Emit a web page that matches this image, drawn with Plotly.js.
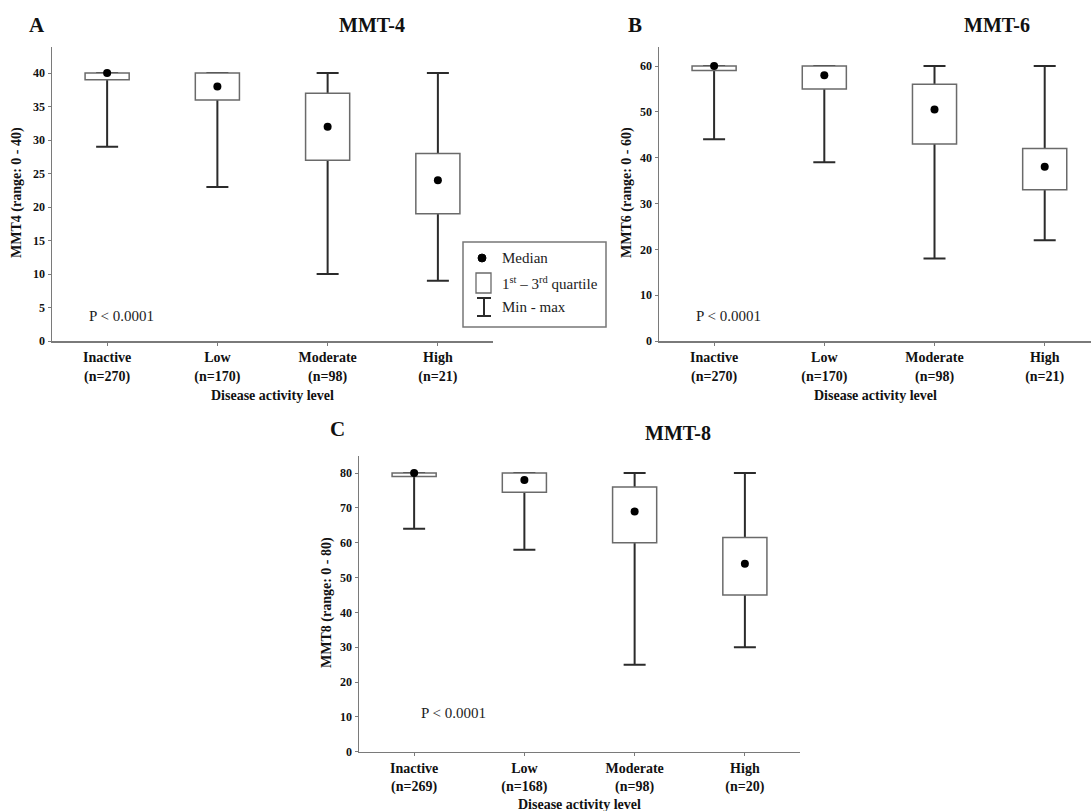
<!DOCTYPE html>
<html>
<head>
<meta charset="utf-8">
<script src="https://cdn.plot.ly/plotly-3.0.1.min.js"></script>
<style>html,body{margin:0;padding:0;background:#fff;}#chart{width:1091px;height:811px;}</style>
</head>
<body>
<div id="chart"></div>
<script>
// ---------- data ----------
const categories = ['Inactive', 'Low', 'Moderate', 'High'];
const nA = [270, 170, 98, 21];
const nB = [270, 170, 98, 21];
const nC = [269, 168, 98, 20];

// MMT-4
const mmt4Min = [29, 23, 10, 9];
const mmt4Q1 = [39, 36, 27, 19];
const mmt4Median = [40, 38, 32, 24];
const mmt4Q3 = [40, 40, 37, 28];
const mmt4Max = [40, 40, 40, 40];

// MMT-6
const mmt6Min = [44, 39, 18, 22];
const mmt6Q1 = [59, 55, 43, 33];
const mmt6Median = [60, 58, 50.5, 38];
const mmt6Q3 = [60, 60, 56, 42];
const mmt6Max = [60, 60, 60, 60];

// MMT-8
const mmt8Min = [64, 58, 25, 30];
const mmt8Q1 = [79, 74.5, 60, 45];
const mmt8Median = [80, 78, 69, 54];
const mmt8Q3 = [80, 80, 76, 61.5];
const mmt8Max = [80, 80, 80, 80];

const yTicksA = [0, 5, 10, 15, 20, 25, 30, 35, 40];
const yTicksB = [0, 10, 20, 30, 40, 50, 60];
const yTicksC = [0, 10, 20, 30, 40, 50, 60, 70, 80];

// ---------- helpers ----------
const W = 1091, H = 811;
const fx = p => p / W;
const fy = p => 1 - p / H;
const SERIF = 'Liberation Serif, Times New Roman, serif';
const AXIS_COLOR = '#7a7a7a';

function labels(ns) { return categories.map((c, i) => c + '<br>(n=' + ns[i] + ')'); }

const traces = [];
const layout = {
  width: W, height: H,
  margin: {l: 0, r: 0, t: 0, b: 0},
  paper_bgcolor: '#fff', plot_bgcolor: 'rgba(0,0,0,0)',
  showlegend: false,
  bargap: 0,
  annotations: [],
  shapes: []
};

function addPanel(k, ns, mins, q1, med, q3, maxs, xdom, ydom, xr, yr, yticks) {
  const lab = labels(ns);
  const xa = 'x' + (k === 1 ? '' : k), ya = 'y' + (k === 1 ? '' : k);
  const ko = k + 3;
  const xo = 'x' + ko, yo = 'y' + ko;
  // whiskers (min - max) drawn on the base subplot
  traces.push({
    type: 'scatter', mode: 'markers', x: lab, y: med,
    marker: {size: 1, opacity: 0},
    error_y: {type: 'data', symmetric: false,
      array: maxs.map((v, i) => v - med[i]),
      arrayminus: med.map((v, i) => v - mins[i]),
      color: '#2b2b2b', thickness: 2, width: 11},
    xaxis: xa, yaxis: ya, hoverinfo: 'skip'
  });
  // boxes (Q1 - Q3) on overlay so they cover the whisker
  traces.push({
    type: 'bar', x: lab, base: q1, y: q3.map((v, i) => v - q1[i]), width: 0.4,
    marker: {color: '#ffffff', line: {color: '#6a6a6a', width: 1.5}},
    xaxis: xo, yaxis: yo, hoverinfo: 'skip'
  });
  // medians
  traces.push({
    type: 'scatter', mode: 'markers', x: lab, y: med,
    marker: {color: '#000', size: 8},
    xaxis: xo, yaxis: yo, hoverinfo: 'skip'
  });
  const xKey = 'xaxis' + (k === 1 ? '' : k), yKey = 'yaxis' + (k === 1 ? '' : k);
  layout[xKey] = {
    domain: xdom, anchor: ya, type: 'category', categoryarray: lab, categoryorder: 'array',
    range: xr, showline: true, linecolor: AXIS_COLOR, linewidth: 1.5,
    ticks: 'outside', ticklen: 3, tickcolor: AXIS_COLOR, tickwidth: 1,
    tickfont: {family: SERIF, size: 14, color: '#111', weight: 'bold'},
    showgrid: false, zeroline: false, fixedrange: true
  };
  layout[yKey] = {
    domain: ydom, anchor: xa, range: yr, tickmode: 'array', tickvals: yticks,
    showline: true, linecolor: AXIS_COLOR, linewidth: 1.5,
    ticks: 'outside', ticklen: 3, tickcolor: AXIS_COLOR, tickwidth: 1,
    tickfont: {family: SERIF, size: 12, color: '#111', weight: 'bold'},
    showgrid: false, zeroline: false, fixedrange: true
  };
  layout['xaxis' + ko] = {
    overlaying: xa, anchor: yo, type: 'category', categoryarray: lab, categoryorder: 'array',
    range: xr, visible: false, fixedrange: true
  };
  layout['yaxis' + ko] = {
    overlaying: ya, anchor: xo, range: yr, visible: false, fixedrange: true
  };
}

addPanel(1, nA, mmt4Min, mmt4Q1, mmt4Median, mmt4Q3, mmt4Max,
  [fx(52), fx(493)], [fy(341), fy(47)], [-0.5, 3.5], [0, 43.9], yTicksA);
addPanel(2, nB, mmt6Min, mmt6Q1, mmt6Median, mmt6Q3, mmt6Max,
  [fx(659), 1], [fy(341), fy(47)], [-0.5, 3.42], [0, 64.15], yTicksB);
addPanel(3, nC, mmt8Min, mmt8Q1, mmt8Median, mmt8Q3, mmt8Max,
  [fx(359), fx(800)], [fy(751.7), fy(455.7)], [-0.5, 3.5], [0, 85], yTicksC);

function ann(text, x, y, o) {
  layout.annotations.push(Object.assign({
    text: text, x: fx(x), y: fy(y), xref: 'paper', yref: 'paper',
    showarrow: false, xanchor: 'center', yanchor: 'middle',
    font: {family: SERIF, size: 14, color: '#111'}
  }, o || {}));
}
const bold = (s) => ({family: SERIF, size: s, color: '#111', weight: 'bold'});
const reg = (s) => ({family: SERIF, size: s, color: '#222'});

// panel letters and titles
ann('A', 37, 25, {font: bold(21)});
ann('B', 635, 25, {font: bold(21)});
ann('C', 337, 429, {font: bold(21)});
ann('MMT-4', 372, 25, {font: bold(20)});
ann('MMT-6', 997, 25, {font: bold(20)});
ann('MMT-8', 678, 433, {font: bold(20)});
// axis titles
ann('Disease activity level', 272.5, 395, {font: bold(14)});
ann('Disease activity level', 875, 395, {font: bold(14)});
ann('Disease activity level', 579.5, 804, {font: bold(14)});
ann('MMT4 (range: 0 - 40)', 17, 193, {font: bold(14), textangle: -90});
ann('MMT6 (range: 0 - 60)', 627, 193, {font: bold(14), textangle: -90});
ann('MMT8 (range: 0 - 80)', 327, 603, {font: bold(14), textangle: -90});
// p-values
ann('P &lt; 0.0001', 87, 316, {font: reg(15), xanchor: 'left'});
ann('P &lt; 0.0001', 694, 316, {font: reg(15), xanchor: 'left'});
ann('P &lt; 0.0001', 419, 713, {font: reg(15), xanchor: 'left'});

// legend
layout.shapes.push({type: 'rect', xref: 'paper', yref: 'paper', x0: fx(463), x1: fx(606), y0: fy(327), y1: fy(242),
  line: {color: '#777', width: 1.5}, fillcolor: '#fff', layer: 'above'});
layout.shapes.push({type: 'circle', xref: 'paper', yref: 'paper', x0: fx(478), x1: fx(486), y0: fy(262), y1: fy(254),
  line: {color: '#000', width: 1}, fillcolor: '#000', layer: 'above'});
layout.shapes.push({type: 'rect', xref: 'paper', yref: 'paper', x0: fx(476), x1: fx(491), y0: fy(293), y1: fy(273),
  line: {color: '#6a6a6a', width: 1.3}, fillcolor: '#fff', layer: 'above'});
layout.shapes.push({type: 'line', xref: 'paper', yref: 'paper', x0: fx(484), x1: fx(484), y0: fy(316), y1: fy(298),
  line: {color: '#2b2b2b', width: 2}, layer: 'above'});
layout.shapes.push({type: 'line', xref: 'paper', yref: 'paper', x0: fx(477), x1: fx(491), y0: fy(298), y1: fy(298),
  line: {color: '#2b2b2b', width: 2}, layer: 'above'});
layout.shapes.push({type: 'line', xref: 'paper', yref: 'paper', x0: fx(477), x1: fx(491), y0: fy(316), y1: fy(316),
  line: {color: '#2b2b2b', width: 2}, layer: 'above'});
ann('Median', 500, 258, {font: reg(15), xanchor: 'left'});
ann('1<sup>st</sup> – 3<sup>rd</sup> quartile', 500, 283, {font: reg(15), xanchor: 'left'});
ann('Min - max', 500, 307, {font: reg(15), xanchor: 'left'});

Plotly.newPlot('chart', traces, layout, {staticPlot: true, displayModeBar: false});
</script>
</body>
</html>
